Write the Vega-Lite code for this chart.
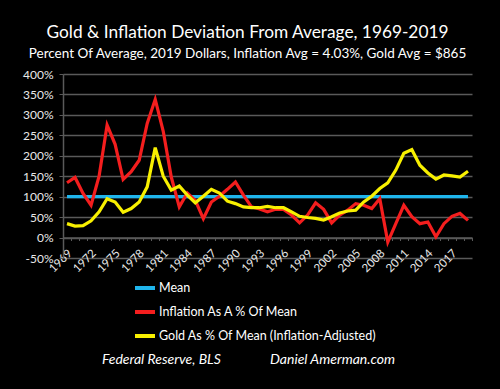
{
  "$schema": "https://vega.github.io/schema/vega-lite/v6.json",
  "width": 409,
  "height": 184,
  "autosize": {"type": "none"},
  "padding": {"left": 63, "top": 74, "right": 28, "bottom": 131},
  "background": "black",
  "title": {
    "text": "Gold & Inflation Deviation From Average, 1969-2019",
    "anchor": "middle",
    "dx": -20,
    "offset": 5,
    "font": "Lato",
    "fontSize": 17.3,
    "fontWeight": 400,
    "color": "white"
  },
  "config": {
    "view": {"stroke": null},
    "axis": {"labelFont": "Lato", "titleFont": "Lato"}
  },
  "data": {
    "values": [
      {"year": 1969, "series": "Mean", "value": 100},
      {"year": 1970, "series": "Mean", "value": 100},
      {"year": 1971, "series": "Mean", "value": 100},
      {"year": 1972, "series": "Mean", "value": 100},
      {"year": 1973, "series": "Mean", "value": 100},
      {"year": 1974, "series": "Mean", "value": 100},
      {"year": 1975, "series": "Mean", "value": 100},
      {"year": 1976, "series": "Mean", "value": 100},
      {"year": 1977, "series": "Mean", "value": 100},
      {"year": 1978, "series": "Mean", "value": 100},
      {"year": 1979, "series": "Mean", "value": 100},
      {"year": 1980, "series": "Mean", "value": 100},
      {"year": 1981, "series": "Mean", "value": 100},
      {"year": 1982, "series": "Mean", "value": 100},
      {"year": 1983, "series": "Mean", "value": 100},
      {"year": 1984, "series": "Mean", "value": 100},
      {"year": 1985, "series": "Mean", "value": 100},
      {"year": 1986, "series": "Mean", "value": 100},
      {"year": 1987, "series": "Mean", "value": 100},
      {"year": 1988, "series": "Mean", "value": 100},
      {"year": 1989, "series": "Mean", "value": 100},
      {"year": 1990, "series": "Mean", "value": 100},
      {"year": 1991, "series": "Mean", "value": 100},
      {"year": 1992, "series": "Mean", "value": 100},
      {"year": 1993, "series": "Mean", "value": 100},
      {"year": 1994, "series": "Mean", "value": 100},
      {"year": 1995, "series": "Mean", "value": 100},
      {"year": 1996, "series": "Mean", "value": 100},
      {"year": 1997, "series": "Mean", "value": 100},
      {"year": 1998, "series": "Mean", "value": 100},
      {"year": 1999, "series": "Mean", "value": 100},
      {"year": 2000, "series": "Mean", "value": 100},
      {"year": 2001, "series": "Mean", "value": 100},
      {"year": 2002, "series": "Mean", "value": 100},
      {"year": 2003, "series": "Mean", "value": 100},
      {"year": 2004, "series": "Mean", "value": 100},
      {"year": 2005, "series": "Mean", "value": 100},
      {"year": 2006, "series": "Mean", "value": 100},
      {"year": 2007, "series": "Mean", "value": 100},
      {"year": 2008, "series": "Mean", "value": 100},
      {"year": 2009, "series": "Mean", "value": 100},
      {"year": 2010, "series": "Mean", "value": 100},
      {"year": 2011, "series": "Mean", "value": 100},
      {"year": 2012, "series": "Mean", "value": 100},
      {"year": 2013, "series": "Mean", "value": 100},
      {"year": 2014, "series": "Mean", "value": 100},
      {"year": 2015, "series": "Mean", "value": 100},
      {"year": 2016, "series": "Mean", "value": 100},
      {"year": 2017, "series": "Mean", "value": 100},
      {"year": 2018, "series": "Mean", "value": 100},
      {"year": 2019, "series": "Mean", "value": 100},
      {"year": 1969, "series": "Inflation As A % Of Mean", "value": 134},
      {"year": 1970, "series": "Inflation As A % Of Mean", "value": 147},
      {"year": 1971, "series": "Inflation As A % Of Mean", "value": 108},
      {"year": 1972, "series": "Inflation As A % Of Mean", "value": 79},
      {"year": 1973, "series": "Inflation As A % Of Mean", "value": 150},
      {"year": 1974, "series": "Inflation As A % Of Mean", "value": 275},
      {"year": 1975, "series": "Inflation As A % Of Mean", "value": 228},
      {"year": 1976, "series": "Inflation As A % Of Mean", "value": 142},
      {"year": 1977, "series": "Inflation As A % Of Mean", "value": 161},
      {"year": 1978, "series": "Inflation As A % Of Mean", "value": 189},
      {"year": 1979, "series": "Inflation As A % Of Mean", "value": 279},
      {"year": 1980, "series": "Inflation As A % Of Mean", "value": 338},
      {"year": 1981, "series": "Inflation As A % Of Mean", "value": 260},
      {"year": 1982, "series": "Inflation As A % Of Mean", "value": 148},
      {"year": 1983, "series": "Inflation As A % Of Mean", "value": 75},
      {"year": 1984, "series": "Inflation As A % Of Mean", "value": 109},
      {"year": 1985, "series": "Inflation As A % Of Mean", "value": 91},
      {"year": 1986, "series": "Inflation As A % Of Mean", "value": 46},
      {"year": 1987, "series": "Inflation As A % Of Mean", "value": 87},
      {"year": 1988, "series": "Inflation As A % Of Mean", "value": 101},
      {"year": 1989, "series": "Inflation As A % Of Mean", "value": 118},
      {"year": 1990, "series": "Inflation As A % Of Mean", "value": 136},
      {"year": 1991, "series": "Inflation As A % Of Mean", "value": 104},
      {"year": 1992, "series": "Inflation As A % Of Mean", "value": 75},
      {"year": 1993, "series": "Inflation As A % Of Mean", "value": 70},
      {"year": 1994, "series": "Inflation As A % Of Mean", "value": 63},
      {"year": 1995, "series": "Inflation As A % Of Mean", "value": 69},
      {"year": 1996, "series": "Inflation As A % Of Mean", "value": 69},
      {"year": 1997, "series": "Inflation As A % Of Mean", "value": 55},
      {"year": 1998, "series": "Inflation As A % Of Mean", "value": 36},
      {"year": 1999, "series": "Inflation As A % Of Mean", "value": 55},
      {"year": 2000, "series": "Inflation As A % Of Mean", "value": 85},
      {"year": 2001, "series": "Inflation As A % Of Mean", "value": 69},
      {"year": 2002, "series": "Inflation As A % Of Mean", "value": 36},
      {"year": 2003, "series": "Inflation As A % Of Mean", "value": 55},
      {"year": 2004, "series": "Inflation As A % Of Mean", "value": 67},
      {"year": 2005, "series": "Inflation As A % Of Mean", "value": 83},
      {"year": 2006, "series": "Inflation As A % Of Mean", "value": 79},
      {"year": 2007, "series": "Inflation As A % Of Mean", "value": 71},
      {"year": 2008, "series": "Inflation As A % Of Mean", "value": 95},
      {"year": 2009, "series": "Inflation As A % Of Mean", "value": -11},
      {"year": 2010, "series": "Inflation As A % Of Mean", "value": 34},
      {"year": 2011, "series": "Inflation As A % Of Mean", "value": 79},
      {"year": 2012, "series": "Inflation As A % Of Mean", "value": 51},
      {"year": 2013, "series": "Inflation As A % Of Mean", "value": 34},
      {"year": 2014, "series": "Inflation As A % Of Mean", "value": 38},
      {"year": 2015, "series": "Inflation As A % Of Mean", "value": 2},
      {"year": 2016, "series": "Inflation As A % Of Mean", "value": 34},
      {"year": 2017, "series": "Inflation As A % Of Mean", "value": 52},
      {"year": 2018, "series": "Inflation As A % Of Mean", "value": 59},
      {"year": 2019, "series": "Inflation As A % Of Mean", "value": 42},
      {"year": 1969, "series": "Gold As % Of Mean (Inflation-Adjusted)", "value": 34},
      {"year": 1970, "series": "Gold As % Of Mean (Inflation-Adjusted)", "value": 28},
      {"year": 1971, "series": "Gold As % Of Mean (Inflation-Adjusted)", "value": 29},
      {"year": 1972, "series": "Gold As % Of Mean (Inflation-Adjusted)", "value": 41},
      {"year": 1973, "series": "Gold As % Of Mean (Inflation-Adjusted)", "value": 63},
      {"year": 1974, "series": "Gold As % Of Mean (Inflation-Adjusted)", "value": 95},
      {"year": 1975, "series": "Gold As % Of Mean (Inflation-Adjusted)", "value": 87},
      {"year": 1976, "series": "Gold As % Of Mean (Inflation-Adjusted)", "value": 62},
      {"year": 1977, "series": "Gold As % Of Mean (Inflation-Adjusted)", "value": 71},
      {"year": 1978, "series": "Gold As % Of Mean (Inflation-Adjusted)", "value": 87},
      {"year": 1979, "series": "Gold As % Of Mean (Inflation-Adjusted)", "value": 124},
      {"year": 1980, "series": "Gold As % Of Mean (Inflation-Adjusted)", "value": 220},
      {"year": 1981, "series": "Gold As % Of Mean (Inflation-Adjusted)", "value": 150},
      {"year": 1982, "series": "Gold As % Of Mean (Inflation-Adjusted)", "value": 116},
      {"year": 1983, "series": "Gold As % Of Mean (Inflation-Adjusted)", "value": 126},
      {"year": 1984, "series": "Gold As % Of Mean (Inflation-Adjusted)", "value": 104},
      {"year": 1985, "series": "Gold As % Of Mean (Inflation-Adjusted)", "value": 85},
      {"year": 1986, "series": "Gold As % Of Mean (Inflation-Adjusted)", "value": 101},
      {"year": 1987, "series": "Gold As % Of Mean (Inflation-Adjusted)", "value": 118},
      {"year": 1988, "series": "Gold As % Of Mean (Inflation-Adjusted)", "value": 109},
      {"year": 1989, "series": "Gold As % Of Mean (Inflation-Adjusted)", "value": 89},
      {"year": 1990, "series": "Gold As % Of Mean (Inflation-Adjusted)", "value": 83},
      {"year": 1991, "series": "Gold As % Of Mean (Inflation-Adjusted)", "value": 75},
      {"year": 1992, "series": "Gold As % Of Mean (Inflation-Adjusted)", "value": 73},
      {"year": 1993, "series": "Gold As % Of Mean (Inflation-Adjusted)", "value": 73},
      {"year": 1994, "series": "Gold As % Of Mean (Inflation-Adjusted)", "value": 76},
      {"year": 1995, "series": "Gold As % Of Mean (Inflation-Adjusted)", "value": 73},
      {"year": 1996, "series": "Gold As % Of Mean (Inflation-Adjusted)", "value": 73},
      {"year": 1997, "series": "Gold As % Of Mean (Inflation-Adjusted)", "value": 63},
      {"year": 1998, "series": "Gold As % Of Mean (Inflation-Adjusted)", "value": 52},
      {"year": 1999, "series": "Gold As % Of Mean (Inflation-Adjusted)", "value": 49},
      {"year": 2000, "series": "Gold As % Of Mean (Inflation-Adjusted)", "value": 47},
      {"year": 2001, "series": "Gold As % Of Mean (Inflation-Adjusted)", "value": 43},
      {"year": 2002, "series": "Gold As % Of Mean (Inflation-Adjusted)", "value": 51},
      {"year": 2003, "series": "Gold As % Of Mean (Inflation-Adjusted)", "value": 60},
      {"year": 2004, "series": "Gold As % Of Mean (Inflation-Adjusted)", "value": 65},
      {"year": 2005, "series": "Gold As % Of Mean (Inflation-Adjusted)", "value": 67},
      {"year": 2006, "series": "Gold As % Of Mean (Inflation-Adjusted)", "value": 87},
      {"year": 2007, "series": "Gold As % Of Mean (Inflation-Adjusted)", "value": 101},
      {"year": 2008, "series": "Gold As % Of Mean (Inflation-Adjusted)", "value": 120},
      {"year": 2009, "series": "Gold As % Of Mean (Inflation-Adjusted)", "value": 134},
      {"year": 2010, "series": "Gold As % Of Mean (Inflation-Adjusted)", "value": 165},
      {"year": 2011, "series": "Gold As % Of Mean (Inflation-Adjusted)", "value": 206},
      {"year": 2012, "series": "Gold As % Of Mean (Inflation-Adjusted)", "value": 215},
      {"year": 2013, "series": "Gold As % Of Mean (Inflation-Adjusted)", "value": 177},
      {"year": 2014, "series": "Gold As % Of Mean (Inflation-Adjusted)", "value": 158},
      {"year": 2015, "series": "Gold As % Of Mean (Inflation-Adjusted)", "value": 143},
      {"year": 2016, "series": "Gold As % Of Mean (Inflation-Adjusted)", "value": 153},
      {"year": 2017, "series": "Gold As % Of Mean (Inflation-Adjusted)", "value": 151},
      {"year": 2018, "series": "Gold As % Of Mean (Inflation-Adjusted)", "value": 148},
      {"year": 2019, "series": "Gold As % Of Mean (Inflation-Adjusted)", "value": 162}
    ]
  },
  "mark": {"type": "line", "strokeWidth": 3.2, "strokeJoin": "miter"},
  "encoding": {
    "x": {
      "field": "year",
      "type": "ordinal",
      "bandPosition": 0.5,
      "scale": {"type": "band", "paddingInner": 0, "paddingOuter": 0},
      "axis": {
        "offset": -20.5,
        "domain": true,
        "domainColor": "#5a5a5a",
        "domainWidth": 1.5,
        "ticks": true,
        "tickBand": "extent",
        "tickColor": "#5a5a5a",
        "tickSize": 3,
        "tickWidth": 1,
        "grid": false,
        "labelAngle": -45,
        "labelAlign": "right",
        "labelBaseline": "middle",
        "labelPadding": 11,
        "labelOffset": 3,
        "labelOverlap": false,
        "labelFontSize": 11.5,
        "labelColor": "#e8e8e8",
        "labelExpr": "(datum.value - 1969) % 3 == 0 ? datum.label : ''",
        "title": "Federal Reserve, BLS\u00a0\u00a0\u00a0\u00a0\u00a0\u00a0\u00a0\u00a0\u00a0\u00a0\u00a0\u00a0\u00a0\u00a0\u00a0Daniel Amerman.com",
        "titleFontSize": 14,
        "titleFontStyle": "italic",
        "titleFontWeight": "normal",
        "titleColor": "white",
        "titleX": 185,
        "titleY": 125.5,
        "titleAlign": "center",
        "titleBaseline": "alphabetic"
      }
    },
    "y": {
      "field": "value",
      "type": "quantitative",
      "scale": {"domain": [-50, 400], "nice": false, "zero": false},
      "axis": {
        "values": [-50, 0, 50, 100, 150, 200, 250, 300, 350, 400],
        "labelExpr": "datum.value + '%'",
        "labelFontSize": 12,
        "labelColor": "#e8e8e8",
        "labelPadding": 6,
        "grid": true,
        "gridColor": "#5a5a5a",
        "gridWidth": 1.5,
        "domain": true,
        "domainColor": "#5a5a5a",
        "domainWidth": 1.5,
        "ticks": true,
        "tickSize": 4,
        "tickColor": "#5a5a5a",
        "title": "Percent Of Average, 2019 Dollars, Inflation Avg = 4.03%, Gold Avg = $865",
        "titleAngle": 0,
        "titleX": 184,
        "titleY": -17,
        "titleAlign": "center",
        "titleBaseline": "alphabetic",
        "titleFontSize": 13.5,
        "titleFontWeight": "normal",
        "titleColor": "white",
        "titleLimit": 1000
      }
    },
    "color": {
      "field": "series",
      "type": "nominal",
      "sort": null,
      "scale": {
        "domain": ["Mean", "Inflation As A % Of Mean", "Gold As % Of Mean (Inflation-Adjusted)"],
        "range": ["#1fb5ec", "#f41e1e", "#f8f000"]
      },
      "legend": {
        "title": null,
        "orient": "none",
        "legendX": 70,
        "legendY": 202,
        "direction": "vertical",
        "symbolType": "stroke",
        "symbolSize": 400,
        "symbolStrokeWidth": 4,
        "labelFont": "Lato",
        "labelFontSize": 12.5,
        "labelColor": "white",
        "labelLimit": 400,
        "labelOffset": 2,
        "rowPadding": 4
      }
    }
  }
}
